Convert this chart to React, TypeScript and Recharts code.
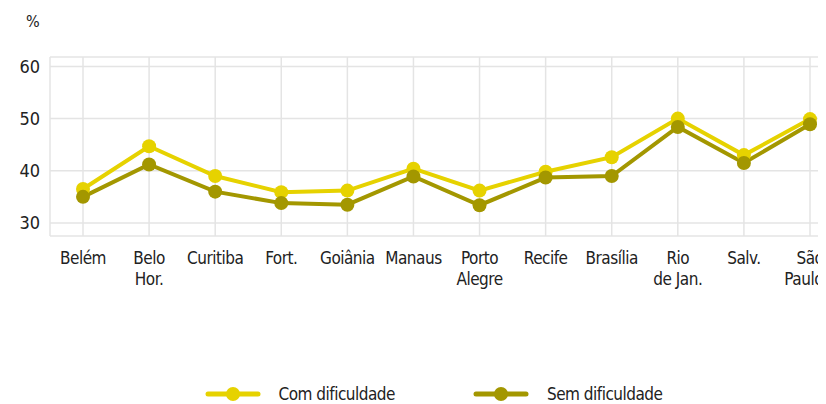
import React from 'react';
import { LineChart, Line, XAxis, YAxis, CartesianGrid, Legend } from 'recharts';

const FONT = '"Liberation Sans Narrow", "DejaVu Sans Condensed", "Roboto", sans-serif';
const YELLOW = '#e6d200';
const OLIVE = '#a39700';
const VISIBLE_WIDTH = 818;

// labels with \n are drawn on two lines
const cities = ['Belém', 'Belo\nHor.', 'Curitiba', 'Fort.', 'Goiânia', 'Manaus', 'Porto\nAlegre', 'Recife', 'Brasília', 'Rio\nde Jan.', 'Salv.', 'São\nPaulo'];
const comDificuldade = [36.5, 44.7, 39.0, 35.9, 36.2, 40.4, 36.2, 39.8, 42.6, 50.0, 43.0, 49.9];
const semDificuldade = [35.0, 41.2, 36.0, 33.8, 33.5, 38.9, 33.4, 38.7, 39.0, 48.4, 41.5, 48.9];
const yTicks = [30, 40, 50, 60];

const seriesNames = ['Com dificuldade', 'Sem dificuldade'];
const seriesColors = [YELLOW, OLIVE];

const data = cities.map((city, i) => ({
  city,
  com: comDificuldade[i],
  sem: semDificuldade[i],
}));

const CityTick = (props: any) => {
  const { x, y, payload } = props;
  const lines = String(payload.value).split('\n');
  return (
    <text y={y} fill="#222" fontSize={17} letterSpacing={-0.5} fontFamily={FONT}>
      {lines.map((line, i) => {
        // keep the last label inside the visible area
        const half = line.length * 4.3;
        const nearEdge = x + half > VISIBLE_WIDTH - 3;
        return (
          <tspan
            key={i}
            x={nearEdge ? VISIBLE_WIDTH - 3 : x}
            textAnchor={nearEdge ? 'end' : 'middle'}
            dy={i === 0 ? 28 : 21}
          >
            {line}
          </tspan>
        );
      })}
    </text>
  );
};

const LegendContent = () => (
  <div style={{ display: 'flex', justifyContent: 'center', height: 20, paddingLeft: 16, marginTop: 4, fontFamily: FONT }}>
    {seriesNames.map((name, i) => (
      <div key={name} style={{ display: 'flex', alignItems: 'center', marginRight: i === 0 ? 78 : 0 }}>
        <svg width={56} height={16} style={{ marginRight: 18 }}>
          <line x1={3} y1={8} x2={53} y2={8} stroke={seriesColors[i]} strokeWidth={5} strokeLinecap="round" />
          <circle cx={28} cy={8} r={7} fill={seriesColors[i]} />
        </svg>
        <span style={{ fontSize: 17, letterSpacing: -0.5, color: '#222' }}>{name}</span>
      </div>
    ))}
  </div>
);

export default function App() {
  return (
    <div style={{ position: 'relative', width: VISIBLE_WIDTH, height: 396, overflow: 'hidden', fontFamily: FONT }}>
      <div style={{ position: 'absolute', left: 18, top: 4, fontSize: 16, color: '#222' }}>%</div>
      <LineChart width={840} height={396} data={data} margin={{ top: 49, right: 5, bottom: 0, left: 0 }}>
        <CartesianGrid stroke="#e4e4e4" strokeWidth={1.5} />
        <XAxis
          dataKey="city"
          interval={0}
          padding={{ left: 33, right: 33 }}
          axisLine={false}
          tickLine={false}
          tickSize={0}
          tickMargin={0}
          height={144}
          tick={<CityTick />}
        />
        <YAxis
          domain={[27.5, 61.8]}
          ticks={yTicks}
          width={42}
          axisLine={false}
          tickLine={false}
          tickSize={0}
          tickMargin={10}
          tick={{ fill: '#222', fontSize: 18, fontFamily: FONT }}
        />
        <Legend verticalAlign="bottom" content={<LegendContent />} />
        <Line
          dataKey="com"
          name={seriesNames[0]}
          stroke={YELLOW}
          strokeWidth={4}
          dot={{ r: 7, fill: YELLOW, stroke: YELLOW, strokeWidth: 0 }}
          isAnimationActive={false}
        />
        <Line
          dataKey="sem"
          name={seriesNames[1]}
          stroke={OLIVE}
          strokeWidth={4}
          dot={{ r: 7, fill: OLIVE, stroke: OLIVE, strokeWidth: 0 }}
          isAnimationActive={false}
        />
      </LineChart>
    </div>
  );
}
